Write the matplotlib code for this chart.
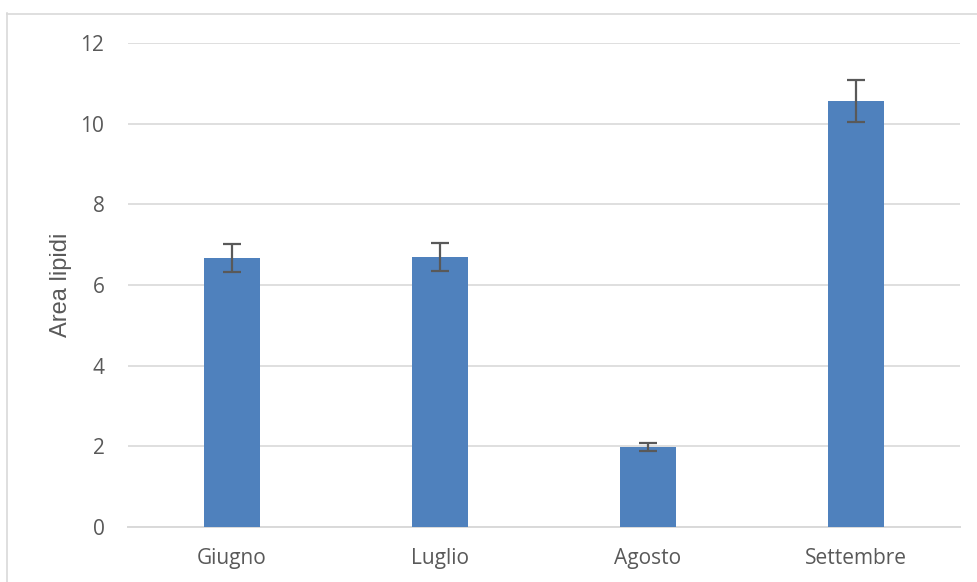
import matplotlib
matplotlib.use("Agg")
import matplotlib.pyplot as plt
from matplotlib.lines import Line2D

months = ["Giugno", "Luglio", "Agosto", "Settembre"]
area_lipidi = [6.67, 6.69, 1.98, 10.56]
errori = [0.34, 0.35, 0.10, 0.53]
y_ticks = [0, 2, 4, 6, 8, 10, 12]

plt.rcParams["font.family"] = ["Open Sans", "DejaVu Sans"]

W, H = 978, 582
fig = plt.figure(figsize=(W / 100, H / 100), dpi=100)
ax = fig.add_axes([128 / W, 1 - 527 / H, (960 - 128) / W, (527 - 43) / H])

x = list(range(len(months)))
ax.bar(x, area_lipidi, width=0.274, color="#4F81BD", zorder=3,
       yerr=errori, error_kw=dict(ecolor="#595959", elinewidth=1.6,
                                  capsize=6.5, capthick=1.6, zorder=4))

ax.set_xlim(-0.5, len(months) - 0.5)
ax.set_ylim(0, 12)
ax.set_yticks(y_ticks)
ax.set_xticks(x)
ax.set_xticklabels(months)
ax.yaxis.grid(True, color="#D9D9D9", linewidth=1.2, zorder=0)
ax.set_axisbelow(True)
for side in ("top", "right", "left"):
    ax.spines[side].set_visible(False)
ax.spines["bottom"].set_color("#D9D9D9")
ax.spines["bottom"].set_linewidth(1.4)
ax.tick_params(axis="both", length=0, labelsize=15, colors="#595959")
ax.tick_params(axis="y", pad=17)
ax.tick_params(axis="x", pad=15)
ax.set_ylabel("Area lipidi", fontsize=17, color="#595959",
              family=["Liberation Sans", "DejaVu Sans"])
ax.yaxis.set_label_coords(-56 / (960 - 128), 0.5)

# Chart area frame (left and top edges)
fig.add_artist(Line2D([7.5 / W, 7.5 / W], [0, 1 - 13 / H], transform=fig.transFigure,
                      color="#D9D9D9", linewidth=1.2))
fig.add_artist(Line2D([7.5 / W, 1], [1 - 13.5 / H, 1 - 13.5 / H], transform=fig.transFigure,
                      color="#D9D9D9", linewidth=1.2))

fig.savefig("out.png", dpi=100, facecolor="white")
